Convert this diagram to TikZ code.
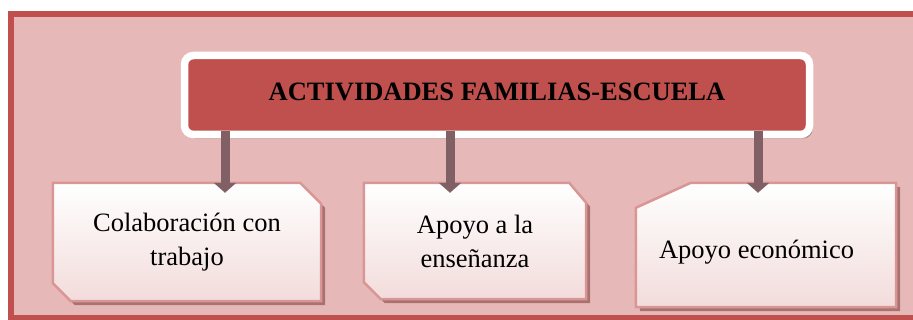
\documentclass[tikz,border=0pt]{standalone}
\usepackage{fontspec}
\setmainfont{Liberation Serif}
\usetikzlibrary{arrows.meta,shadows,calc,backgrounds}
\definecolor{framered}{HTML}{C0504D}
\definecolor{framefill}{HTML}{E6B9B8}
\definecolor{boxline}{HTML}{D99694}
\definecolor{boxlow}{HTML}{F2DCDB}
\definecolor{boxshade}{HTML}{A46A6A}
\definecolor{arrowgray}{HTML}{806064}

\begin{document}
\begin{tikzpicture}[x=1pt,y=-1pt,
        title/.style={rectangle,rounded corners=9pt,fill=framered,draw=white,line width=7.5pt,
            inner sep=0pt,text depth=6.5pt,font=\fontsize{26.5}{30}\selectfont\bfseries,
            drop shadow={shadow xshift=3pt,shadow yshift=-4pt,fill=black,opacity=0.25}},
        boxtext/.style={rectangle,inner sep=0pt,align=center,font=\fontsize{26.5}{34}\selectfont},
        snip/.style={draw=boxline,line width=2.5pt,top color=white,bottom color=boxlow,
            drop shadow={shadow xshift=4pt,shadow yshift=-4pt,fill=boxshade,opacity=0.9}},
        downarrow/.style={draw=arrowgray,line width=9pt,-{Triangle[width=22pt,length=10pt]}}]
            \useasboundingbox (0,0) rectangle (913,320);
            \clip (0,0) rectangle (913,320);
            \begin{scope}[on background layer]
                \draw[framered,fill=framefill,line width=6pt] (11,14) rectangle (930,318);
            \end{scope}
            \node[title,minimum width=625pt,minimum height=79pt] (title) at (497,95) {ACTIVIDADES FAMILIAS-ESCUELA};
            \node[boxtext,minimum width=268pt,minimum height=118pt] (colab) at (187,242) {Colaboración con\\trabajo};
            \node[boxtext,minimum width=222pt,minimum height=116pt] (ensen) at (475,241) {Apoyo a la\\enseñanza};
            \node[boxtext,minimum width=260pt,minimum height=124pt,text width=214pt,align=flush left,
                text height=32pt] (econ) at (766,245) {Apoyo económico};
            % snipped corners
            \begin{scope}[on background layer]
                \path[snip] (colab.north west) -- ([xshift=-21pt]colab.north east) -- ([yshift=-21pt]colab.north east)
                    -- (colab.south east) -- ([xshift=18pt]colab.south west) -- ([yshift=18pt]colab.south west) -- cycle;
                \path[snip] (ensen.north west) -- ([xshift=-17pt]ensen.north east) -- ([yshift=-20pt]ensen.north east)
                    -- (ensen.south east) -- ([xshift=17pt]ensen.south west) -- ([yshift=17pt]ensen.south west) -- cycle;
                \path[snip] ([xshift=55pt]econ.north west) -- (econ.north east) -- (econ.south east)
                    -- (econ.south west) -- ([yshift=-25pt]econ.north west) -- cycle;
            \end{scope}
            \coordinate (a1) at (225,131);
            \coordinate (a2) at (450,131);
            \coordinate (a3) at (758,131);
            \draw[downarrow] (a1) -- ($(a1 |- colab.north)+(0,10)$);
            \draw[downarrow] (a2) -- ($(a2 |- ensen.north)+(0,10)$);
            \draw[downarrow] (a3) -- ($(a3 |- econ.north)+(0,10)$);
        \end{tikzpicture}
\end{document}
